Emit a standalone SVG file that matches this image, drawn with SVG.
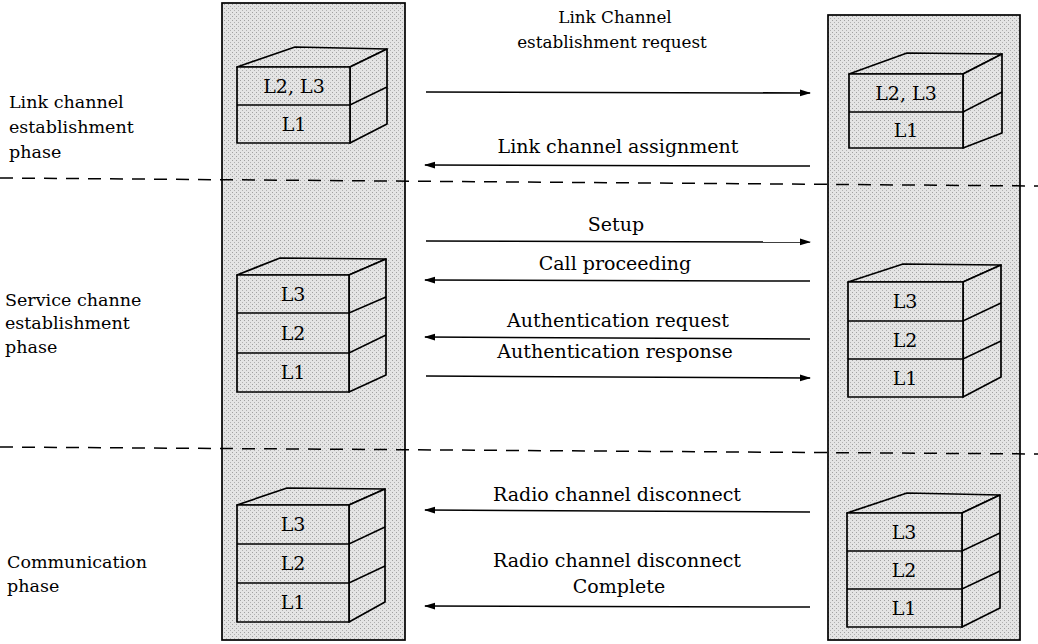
<svg xmlns="http://www.w3.org/2000/svg" width="1038" height="644" viewBox="0 0 1038 644">
<defs>
<marker id="ah" markerWidth="11" markerHeight="8" refX="10" refY="4" orient="auto" markerUnits="userSpaceOnUse">
<path d="M0,0.6 L11,4 L0,7.4 Z" fill="#000"/>
</marker>
<pattern id="stip" width="4" height="4" patternUnits="userSpaceOnUse">
<rect width="4" height="4" fill="#e4e4e4"/>
<rect x="0" y="0" width="1" height="1" fill="#a0a0a0"/>
<rect x="2" y="2" width="1" height="1" fill="#b0b0b0"/>
</pattern>
</defs>
<style>
.col{fill:url(#stip);stroke:#000;stroke-width:1.7}
.face{fill:url(#stip);stroke:#000;stroke-width:1.7;stroke-linejoin:round}
.ln{fill:none;stroke:#000;stroke-width:1.6}
.msg{fill:none;stroke:#000;stroke-width:1.5;marker-end:url(#ah)}
.dash{fill:none;stroke:#000;stroke-width:1.5;stroke-dasharray:13 9}
text{font-family:"DejaVu Serif","Liberation Serif",serif;fill:#000}
.lab{font-size:19px;text-anchor:middle}
.lab1{font-size:16.8px;text-anchor:middle}
.side{font-size:17.5px}
.bx{font-size:19px;text-anchor:middle}
</style>
<rect width="1038" height="644" fill="#fff"/>

<g id="columns">
<rect class="col" x="222" y="3" width="183" height="637"/>
<rect class="col" x="828" y="15" width="192" height="625"/>
</g>

<g id="phase-dividers">
<path class="dash" d="M0,178 L1038,186"/>
<path class="dash" d="M0,447 L1038,454"/>
</g>

<g id="phase-labels">
<text class="side" x="9" y="108">Link channel</text>
<text class="side" x="9" y="133">establishment</text>
<text class="side" x="9" y="158">phase</text>
<text class="side" x="5" y="306">Service channe</text>
<text class="side" x="5" y="329">establishment</text>
<text class="side" x="5" y="353">phase</text>
<text class="side" x="7" y="568">Communication</text>
<text class="side" x="7" y="592">phase</text>
</g>

<g id="stack-left-1">
<path class="face" d="M237,67 L295,47 L387,49 L350,67 Z"/>
<path class="face" d="M350,67 L387,49 L387,124 L350,143 Z"/>
<rect class="face" x="237" y="67" width="113" height="76"/>
<path class="ln" d="M237,105 L350,105 L387,87"/>
<text class="bx" x="294" y="93">L2, L3</text>
<text class="bx" x="294" y="131">L1</text>
</g>

<g id="stack-right-1">
<path class="face" d="M849,74 L907,53 L1002,54 L963,74 Z"/>
<path class="face" d="M963,74 L1002,54 L1002,133 L963,148 Z"/>
<rect class="face" x="849" y="74" width="114" height="74"/>
<path class="ln" d="M849,112 L963,112 L1002,92"/>
<text class="bx" x="906" y="100">L2, L3</text>
<text class="bx" x="906" y="137">L1</text>
</g>

<g id="stack-left-2">
<path class="face" d="M237,275 L280,258 L386,259 L349,275 Z"/>
<path class="face" d="M349,275 L386,259 L386,375 L349,392 Z"/>
<rect class="face" x="237" y="275" width="112" height="117"/>
<path class="ln" d="M237,313 L349,313 L386,297"/>
<path class="ln" d="M237,353 L349,353 L386,335"/>
<text class="bx" x="293" y="301">L3</text>
<text class="bx" x="293" y="340">L2</text>
<text class="bx" x="293" y="379">L1</text>
</g>

<g id="stack-right-2">
<path class="face" d="M848,282 L903,264 L1001,265 L963,282 Z"/>
<path class="face" d="M963,282 L1001,265 L1001,377 L963,397 Z"/>
<rect class="face" x="848" y="282" width="115" height="115"/>
<path class="ln" d="M848,321 L963,321 L1001,303"/>
<path class="ln" d="M848,359 L963,359 L1001,341"/>
<text class="bx" x="905" y="308">L3</text>
<text class="bx" x="905" y="347">L2</text>
<text class="bx" x="905" y="385">L1</text>
</g>

<g id="stack-left-3">
<path class="face" d="M237,505 L287,488 L385,489 L349,505 Z"/>
<path class="face" d="M349,505 L385,489 L385,602 L349,622 Z"/>
<rect class="face" x="237" y="505" width="112" height="117"/>
<path class="ln" d="M237,544 L349,544 L385,527"/>
<path class="ln" d="M237,583 L349,583 L385,566"/>
<text class="bx" x="293" y="531">L3</text>
<text class="bx" x="293" y="570">L2</text>
<text class="bx" x="293" y="609">L1</text>
</g>

<g id="stack-right-3">
<path class="face" d="M847,513 L907,493 L1000,495 L962,513 Z"/>
<path class="face" d="M962,513 L1000,495 L1000,608 L962,627 Z"/>
<rect class="face" x="847" y="513" width="115" height="114"/>
<path class="ln" d="M847,551 L962,551 L1000,533"/>
<path class="ln" d="M847,589 L962,589 L1000,571"/>
<text class="bx" x="904" y="539">L3</text>
<text class="bx" x="904" y="577">L2</text>
<text class="bx" x="904" y="615">L1</text>
</g>

<g id="connectors">
<path class="msg" d="M426,92 L810,93"/>
<path class="msg" d="M810,166 L425,165"/>
<path class="msg" d="M426,241 L810,242"/>
<path class="msg" d="M810,281 L425,280"/>
<path class="msg" d="M810,339 L425,337"/>
<path class="msg" d="M426,376 L810,378"/>
<path class="msg" d="M810,512 L425,510"/>
<path class="msg" d="M810,607 L425,606"/>
</g>

<g id="message-labels">
<text class="lab1" x="615" y="23">Link Channel</text>
<text class="lab1" x="612" y="48">establishment request</text>
<text class="lab" x="618" y="153">Link channel assignment</text>
<text class="lab" x="616" y="231">Setup</text>
<text class="lab" x="615" y="270">Call proceeding</text>
<text class="lab" x="618" y="327">Authentication request</text>
<text class="lab" x="615" y="358">Authentication response</text>
<text class="lab" x="617" y="501">Radio channel disconnect</text>
<text class="lab" x="617" y="567">Radio channel disconnect</text>
<text class="lab" x="619" y="593">Complete</text>
</g>
</svg>
